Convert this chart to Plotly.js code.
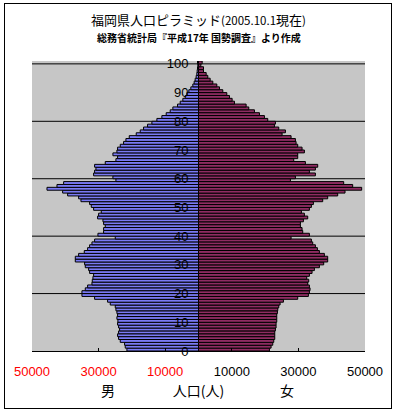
<!DOCTYPE html>
<html>
<head>
<meta charset="utf-8">
<script src="https://cdn.plot.ly/plotly-3.0.1.min.js"></script>
<style>
  body { margin: 0; background: #ffffff; }
  #wrap { position: relative; width: 397px; height: 413px; }
  #chart { width: 397px; height: 413px; }
  #frame { position: absolute; left: 4px; top: 3px; width: 388px; height: 406px;
           box-sizing: border-box; border: 1px solid #000; pointer-events: none; }
</style>
</head>
<body>
<div id="wrap"><div id="chart"></div><div id="frame"></div></div>
<script>
// Age categories (0 .. 100+)
const ages = [0,1,2,3,4,5,6,7,8,9,10,11,12,13,14,15,16,17,18,19,20,21,22,23,24,25,26,27,28,29,30,31,32,33,34,35,36,37,38,39,40,41,42,43,44,45,46,47,48,49,50,51,52,53,54,55,56,57,58,59,60,61,62,63,64,65,66,67,68,69,70,71,72,73,74,75,76,77,78,79,80,81,82,83,84,85,86,87,88,89,90,91,92,93,94,95,96,97,98,99,100];

// Male population by age (persons)
const male = [21500,22000,22200,23500,24000,24300,24000,23700,24000,24300,
              24200,24500,24300,24500,24800,25000,26500,27300,31200,35000,
              35000,34000,33300,32000,31900,31700,31500,32700,33000,34000,
              34200,37000,37000,36000,34300,33300,32700,32000,31200,25000,
              30200,28500,28500,28000,28500,28700,30300,30000,29200,31500,
              32200,32700,35300,36000,39300,40800,45500,42500,40500,24800,
              25700,31500,31200,30800,31200,28000,24800,24300,25700,24500,
              24300,23500,22500,21800,20800,18700,17500,16500,15300,14000,
              12500,11000,9700,8500,7700,6300,5500,4700,4000,3500,
              2900,2300,1700,1300,1000,700,500,400,300,200,
              300];

// Female population by age (persons)
const female = [21300,21800,22300,22600,22900,22900,22900,23100,23300,23300,
                23500,23500,23500,23700,23800,24100,24500,25500,29800,33000,
                33300,33500,33300,32800,33100,32500,33300,34100,34800,36300,
                37600,38800,38800,37800,36300,35700,35100,34300,33900,27800,
                33300,31300,31100,30600,30600,31500,32800,31800,30900,33300,
                33900,34500,37300,38800,41800,44000,49000,46300,43600,27600,
                29100,35100,33300,35100,35800,32100,28600,29800,29800,31800,
                31100,29800,29300,29100,27800,25100,26100,24100,22800,23100,
                20800,19800,18300,16800,15100,14300,10800,10100,9300,8500,
                7300,6300,5500,4300,3500,2800,2300,1500,1500,700,
                1100];

// Axis tick values / labels
const xTickVals = [-50000,-30000,-10000,10000,30000,50000];
const xTickText = ['50000','30000','10000','10000','30000','50000'];
const xTickColors = ['#ff0000','#ff0000','#ff0000','#000000','#000000','#000000'];
const ageTicks = [0,10,20,30,40,50,60,70,80,90,100];
const gridAges = [20,40,60,80,100];

const FONT = '"Liberation Sans", Arial, "Noto Sans CJK JP", sans-serif';
const JFONT = '"Noto Sans CJK JP", "Liberation Sans", sans-serif';

const traces = [
  {
    type: 'bar', orientation: 'h', name: '男',
    y: ages, x: male.map(v => -v),
    offset: 0, width: 1,
    marker: { color: '#7a7af4', line: { color: '#000000', width: 1 } },
    hoverinfo: 'skip'
  },
  {
    type: 'bar', orientation: 'h', name: '女',
    y: ages, x: female,
    offset: 0, width: 1,
    marker: { color: '#8f2c62', line: { color: '#000000', width: 1 } },
    hoverinfo: 'skip'
  }
];

const layout = {
  width: 397, height: 413,
  margin: { l: 32, r: 32, t: 61, b: 62 },
  paper_bgcolor: '#ffffff',
  plot_bgcolor: '#c6c6c6',
  showlegend: false,
  barmode: 'overlay',
  font: { family: FONT, color: '#000000', size: 13 },
  title: {
    text: '福岡県人口ピラミッド<span style="font-size:11.5px">(2005.10.1</span>現在<span style="font-size:11.5px">)</span>',
    x: 0.5, xanchor: 'center',
    y: 1 - 20 / 413, yref: 'container', yanchor: 'middle',
    font: { family: JFONT, size: 13, color: '#000000' }
  },
  xaxis: {
    range: [-50000, 50000],
    tickmode: 'array',
    tickvals: xTickVals,
    ticktext: xTickText.map((t, i) => '<span style="color:' + xTickColors[i] + '">' + t + '</span>'),
    ticks: 'inside', ticklen: 3, tickcolor: '#000000', tickwidth: 1,
    ticklabelstandoff: 8,
    showline: true, linecolor: '#000000', linewidth: 1,
    showgrid: false, zeroline: false,
    tickfont: { family: FONT, size: 13 },
    title: { text: '人口(人)', font: { family: JFONT, size: 14 }, standoff: 8 },
    fixedrange: true
  },
  yaxis: {
    range: [0, 101],
    anchor: 'free', position: 0.5, side: 'left',
    tickmode: 'array', tickvals: ageTicks,
    ticks: '', ticklabelstandoff: 10,
    showgrid: false, zeroline: false, showline: false,
    tickfont: { family: FONT, size: 13 },
    fixedrange: true
  },
  shapes: gridAges.map(a => ({
    type: 'line', layer: 'below',
    xref: 'paper', x0: 0, x1: 1,
    yref: 'y', y0: a, y1: a,
    line: { color: '#000000', width: 1 }
  })),
  annotations: [
    {
      text: '<b>総務省統計局『平成17年 国勢調査』より作成</b>',
      xref: 'paper', x: 0.5, xanchor: 'center',
      yref: 'paper', y: 1, yanchor: 'middle', yshift: 24,
      showarrow: false, font: { family: JFONT, size: 10, color: '#000000' }
    },
    {
      text: '男',
      xref: 'paper', x: 0.228, xanchor: 'center',
      yref: 'paper', y: 0, yanchor: 'middle', yshift: -39,
      showarrow: false, font: { family: JFONT, size: 14, color: '#000000' }
    },
    {
      text: '女',
      xref: 'paper', x: 0.766, xanchor: 'center',
      yref: 'paper', y: 0, yanchor: 'middle', yshift: -39,
      showarrow: false, font: { family: JFONT, size: 14, color: '#000000' }
    }
  ]
};

Plotly.newPlot('chart', traces, layout, { staticPlot: true, displayModeBar: false });
</script>
</body>
</html>
